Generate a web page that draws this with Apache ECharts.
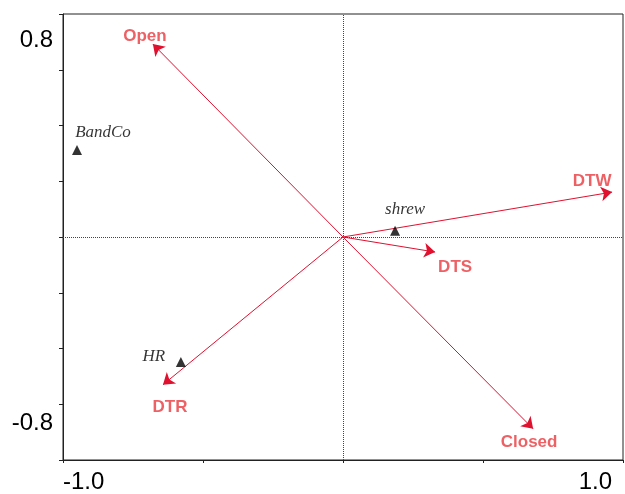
<!DOCTYPE html>
<html>
<head>
<meta charset="utf-8">
<script src="https://cdn.jsdelivr.net/npm/echarts@6/dist/echarts.min.js"></script>
<style>
  html, body { margin: 0; padding: 0; background: #fff; }
  #chart { width: 625px; height: 494px; }
</style>
</head>
<body>
<div id="chart"></div>
<script>
// Environmental variables (arrows from the origin)
const envNames = ['Open', 'DTW', 'DTS', 'DTR', 'Closed'];
const envX = [-0.679, 0.961, 0.329, -0.643, 0.679];
const envY = [0.692, 0.161, -0.054, -0.530, -0.688];

// Species scores (triangles)
const speciesNames = ['BandCo', 'shrew', 'HR'];
const speciesX = [-0.950, 0.186, -0.579];
const speciesY = [0.312, 0.022, -0.448];

// Axis ranges and the tick labels that are printed
const xMin = -1.0, xMax = 1.0, xStep = 0.5;
const yMin = -0.8, yMax = 0.8, yStep = 0.2;
const xTickLabels = ['-1.0', '1.0'];
const yTickLabels = ['-0.8', '0.8'];

// Label placement (pixel offsets from the mark)
const envLabelOffset = {
  Open: [-8, -8], DTW: [-20, -11], DTS: [20, 15], DTR: [7, 23], Closed: [-4, 14]
};
const speciesLabelOffset = {
  BandCo: [26, -17], shrew: [10, -21], HR: [-27, -5]
};

const arrowColor = '#e0102f';
const envTextColor = '#e8383d';
const axisColor = '#222';
const near = (a, b) => Math.abs(a - b) < 1e-6;

const chart = echarts.init(document.getElementById('chart'), null, { renderer: 'canvas' });

chart.setOption({
  animation: false,
  backgroundColor: '#fff',
  grid: {
    left: 63, right: 2, top: 14, bottom: 33,
    show: true, borderColor: axisColor, borderWidth: 1, backgroundColor: 'transparent'
  },
  xAxis: {
    type: 'value', min: xMin, max: xMax, interval: xStep,
    axisLine: { onZero: false, lineStyle: { color: axisColor, width: 1 } },
    axisTick: { show: true, length: 3, lineStyle: { color: axisColor } },
    splitLine: { show: false },
    axisLabel: {
      show: true, margin: 10, color: '#000', fontSize: 24,
      fontFamily: 'Liberation Sans, Arial, sans-serif',
      showMinLabel: true, showMaxLabel: true,
      alignMinLabel: 'left', alignMaxLabel: 'right',
      formatter: v => near(v, xMin) ? xTickLabels[0] : (near(v, xMax) ? '{r|' + xTickLabels[1] + '}' : ''),
      rich: { r: { fontSize: 24, color: '#000', fontFamily: 'Liberation Sans, Arial, sans-serif', padding: [0, 11, 0, 0] } }
    }
  },
  yAxis: {
    type: 'value', min: yMin, max: yMax, interval: yStep,
    axisLine: { onZero: false, lineStyle: { color: axisColor, width: 1 } },
    axisTick: { show: true, length: 4, lineStyle: { color: axisColor } },
    splitLine: { show: false },
    axisLabel: {
      show: true, margin: 10, color: '#000', fontSize: 24,
      fontFamily: 'Liberation Sans, Arial, sans-serif',
      showMinLabel: true, showMaxLabel: true,
      verticalAlignMinLabel: 'bottom', verticalAlignMaxLabel: 'top',
      formatter: v => near(v, yMax) ? '{t|' + yTickLabels[1] + '}' : (near(v, yMin) ? '{b|' + yTickLabels[0] + '}' : ''),
      rich: {
        t: { fontSize: 24, color: '#000', fontFamily: 'Liberation Sans, Arial, sans-serif', padding: [14, 0, 0, 0] },
        b: { fontSize: 24, color: '#000', fontFamily: 'Liberation Sans, Arial, sans-serif', padding: [0, 0, 25, 0] }
      }
    }
  },
  series: [
    {
      // dotted zero lines
      type: 'line', data: [], silent: true,
      markLine: {
        silent: true, symbol: ['none', 'none'], label: { show: false },
        lineStyle: { color: '#444', type: [1, 1], width: 1 },
        data: [{ xAxis: 0 }, { yAxis: 0 }]
      }
    },
    {
      // environmental arrows
      type: 'lines', coordinateSystem: 'cartesian2d', silent: true,
      symbol: ['none', 'arrow'], symbolSize: 11,
      lineStyle: { color: arrowColor, width: 1, opacity: 1 },
      data: envNames.map((n, i) => ({ name: n, coords: [[0, 0], [envX[i], envY[i]]] }))
    },
    {
      // arrow labels
      type: 'scatter', silent: true, symbolSize: 1,
      itemStyle: { color: 'rgba(0,0,0,0)' },
      label: {
        show: true, position: 'inside', formatter: p => p.name,
        color: envTextColor, fontSize: 17, fontWeight: 'bold',
        fontFamily: 'Liberation Sans, Arial, sans-serif'
      },
      data: envNames.map((n, i) => ({ name: n, value: [envX[i], envY[i]], label: { offset: envLabelOffset[n] } }))
    },
    {
      // species triangles
      type: 'scatter', silent: true, symbol: 'triangle', symbolSize: 10,
      itemStyle: { color: '#000' },
      label: {
        show: true, position: 'inside', formatter: p => p.name,
        color: '#000', fontSize: 17, fontStyle: 'italic',
        fontFamily: 'Liberation Serif, Times New Roman, serif'
      },
      data: speciesNames.map((n, i) => ({ name: n, value: [speciesX[i], speciesY[i]], label: { offset: speciesLabelOffset[n] } }))
    }
  ]
});
</script>
</body>
</html>
